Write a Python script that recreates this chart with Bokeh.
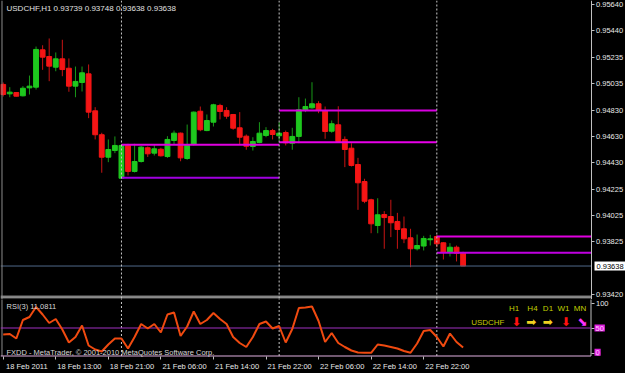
from bokeh.plotting import figure
from bokeh.models import (Range1d, FixedTicker, LinearAxis, Span, Label,
                          ColumnDataSource, PrintfTickFormatter)
from bokeh.layouts import column
from bokeh.embed import file_html
from bokeh.resources import INLINE
from bokeh.core.properties import value

# ---------------- data ----------------
title_text = "USDCHF,H1  0.93739 0.93748 0.93638 0.93638"
opens = [0.95028, 0.94956, 0.94966, 0.94941, 0.95002, 0.95007, 0.95293, 0.95242, 0.95160, 0.95224,
         0.95152, 0.95015, 0.95043, 0.95109, 0.94826, 0.94643, 0.94471, 0.94522, 0.94310, 0.94561,
         0.94362, 0.94438, 0.94543, 0.94502, 0.94532, 0.94476, 0.94599, 0.94655, 0.94461, 0.94568,
         0.94823, 0.94675, 0.94739, 0.94867, 0.94829, 0.94798, 0.94696, 0.94632, 0.94553, 0.94584,
         0.94637, 0.94675, 0.94635, 0.94660, 0.94578, 0.94630, 0.94834, 0.94849, 0.94880, 0.94829,
         0.94670, 0.94719, 0.94607, 0.94540, 0.94415, 0.94285, 0.94145, 0.93948, 0.94032, 0.94017,
         0.93979, 0.93923, 0.93854, 0.93770, 0.93791, 0.93839, 0.93864, 0.93816, 0.93744, 0.93782,
         0.93739]
highs = [0.95043, 0.95007, 0.94970, 0.95015, 0.95096, 0.95318, 0.95328, 0.95380, 0.95273, 0.95370,
         0.95227, 0.95165, 0.95165, 0.95181, 0.94854, 0.94658, 0.94607, 0.94630, 0.94568, 0.94574,
         0.94574, 0.94557, 0.94553, 0.94568, 0.94543, 0.94632, 0.94675, 0.94660, 0.94721, 0.94821,
         0.94859, 0.94798, 0.94880, 0.94880, 0.94854, 0.94802, 0.94816, 0.94645, 0.94624, 0.94739,
         0.94701, 0.94688, 0.94739, 0.94675, 0.94696, 0.94930, 0.94920, 0.95045, 0.94900, 0.94859,
         0.94752, 0.94861, 0.94630, 0.94578, 0.94466, 0.94306, 0.94153, 0.94157, 0.94058, 0.94145,
         0.94045, 0.94017, 0.93923, 0.93879, 0.93869, 0.93877, 0.93877, 0.93820, 0.93813, 0.93795,
         0.93748]
lows = [0.94936, 0.94930, 0.94936, 0.94936, 0.94951, 0.94989, 0.95140, 0.95053, 0.95129, 0.95091,
        0.94972, 0.94930, 0.94974, 0.94770, 0.94607, 0.94352, 0.94433, 0.94502, 0.94304, 0.94331,
        0.94354, 0.94430, 0.94473, 0.94484, 0.94476, 0.94466, 0.94568, 0.94440, 0.94451, 0.94561,
        0.94670, 0.94670, 0.94706, 0.94760, 0.94765, 0.94681, 0.94568, 0.94528, 0.94522, 0.94578,
        0.94624, 0.94607, 0.94599, 0.94561, 0.94528, 0.94578, 0.94816, 0.94842, 0.94808, 0.94612,
        0.94658, 0.94586, 0.94395, 0.94400, 0.94068, 0.94119, 0.93889, 0.93889, 0.93770, 0.93859,
        0.93770, 0.93813, 0.93629, 0.93757, 0.93757, 0.93795, 0.93782, 0.93688, 0.93711, 0.93673,
        0.93638]
closes = [0.94951, 0.94969, 0.94938, 0.94999, 0.95015, 0.95296, 0.95237, 0.95168, 0.95224, 0.95142,
          0.95015, 0.95051, 0.95117, 0.94816, 0.94643, 0.94471, 0.94530, 0.94561, 0.94561, 0.94362,
          0.94438, 0.94548, 0.94497, 0.94535, 0.94482, 0.94607, 0.94655, 0.94466, 0.94568, 0.94816,
          0.94681, 0.94752, 0.94872, 0.94821, 0.94785, 0.94693, 0.94624, 0.94555, 0.94591, 0.94655,
          0.94675, 0.94645, 0.94655, 0.94581, 0.94630, 0.94834, 0.94859, 0.94880, 0.94829, 0.94668,
          0.94727, 0.94591, 0.94530, 0.94408, 0.94275, 0.94134, 0.93961, 0.94030, 0.94009, 0.93969,
          0.93918, 0.93846, 0.93770, 0.93795, 0.93849, 0.93846, 0.93808, 0.93744, 0.93782, 0.93736,
          0.93638]
rsi = [37, 38, 29, 66, 72, 92, 77, 60, 68, 47,
       21, 32, 55, 15, 7, 3, 17, 29, 29, 9,
       32, 58, 49, 58, 41, 77, 81, 34, 53, 83,
       58, 66, 80, 68, 58, 32, 20, 12, 32, 58,
       63, 49, 54, 21, 48, 90, 91, 93, 64, 22,
       40, 20, 12, 5, 1, 0.5, 0.3, 17, 15, 12,
       9, 4, 0.5, 19, 44, 46, 32, 13, 39, 22,
       11.0811]
rsi_title = "RSI(3) 11.0811"
bid = 0.93638
price_ticks = [0.95640, 0.95440, 0.95235, 0.95035, 0.94830, 0.94630,
               0.94430, 0.94225, 0.94025, 0.93825, 0.93420]
rsi_ticks = [0, 50, 100]
rsi_level = 50
time_tick_bars = [0, 8, 16, 24, 32, 40, 48, 56, 64]
time_labels = ["18 Feb 2011", "18 Feb 13:00", "18 Feb 21:00", "21 Feb 06:00",
               "21 Feb 14:00", "21 Feb 22:00", "22 Feb 06:00", "22 Feb 14:00",
               "22 Feb 22:00"]
separator_bars = [18, 42, 66]
level_start = [18, 18, 42, 42, 66, 66]
level_end = [42, 42, 66, 66, None, None]          # None: runs to the price scale
level_price = [0.94566, 0.94313, 0.94829, 0.94586, 0.93864, 0.93739]
level_color = ["#e000e0", "#a000e0", "#d800e0", "#e800e8", "#e000e0", "#c000e0"]
tf_names = ["H1", "H4", "D1", "W1", "MN"]
tf_arrows = ["\u2B07", "\u27A1", "\u27A1", "\u2B07", "\u2B0A"]
tf_arrow_colors = ["#ff1010", "#f0d020", "#f0d020", "#ff1010", "#ff30ff"]
copyright_text = "FXDD - MetaTrader, \u00A9 2001-2010 MetaQuotes Software Corp."

FONT = "Liberation Sans"
GRID = "#c0c0c0"
bars = list(range(len(opens)))

# layout constants (bar index units / value units)
X_LEFT, X_RIGHT = -0.411, 94.718      # whole window width
X_SCALE = 89.467                      # where the price scale sits
X_EDGE = -0.183                       # left window edge line
X_RANGE = Range1d(X_LEFT, X_RIGHT)
level_end = [X_SCALE if e is None else e for e in level_end]

# ---------------- main price panel ----------------
p = figure(width=625, height=299, x_range=X_RANGE, y_range=Range1d(0.933817, 0.956706),
           x_axis_type=None, y_axis_type=None, output_backend="svg", toolbar_location=None,
           min_border_left=0, min_border_right=0, min_border_top=0, min_border_bottom=0,
           background_fill_color="black", border_fill_color="black",
           outline_line_color=None)
p.grid.visible = False

yax = LinearAxis(ticker=FixedTicker(ticks=price_ticks, minor_ticks=[]),
                 formatter=PrintfTickFormatter(format="%.5f"), fixed_location=X_SCALE)
yax.axis_line_color = GRID
yax.major_tick_line_color = GRID
yax.major_tick_in = 0
yax.major_tick_out = 3
yax.major_label_standoff = 2
yax.major_label_text_color = "#e8e8e8"
yax.major_label_text_font = FONT
yax.major_label_text_font_size = "7.5px"
p.add_layout(yax, "right")

bull = [c >= o for o, c in zip(opens, closes)]
src = ColumnDataSource(dict(
    x=bars, h=highs, l=lows,
    top=[max(o, c) for o, c in zip(opens, closes)],
    bot=[min(o, c) for o, c in zip(opens, closes)],
    body=["#1ec81e" if b else "#f51515" for b in bull],
    wick=["#189818" if b else "#c81414" for b in bull],
))

for i in separator_bars:
    p.add_layout(Span(location=i, dimension="height", line_color="#c8c8c8",
                      line_dash="2 2", line_width=1))
p.add_layout(Span(location=X_EDGE, dimension="height", line_color="#8c8c8c", line_width=1))

p.segment(x0="x", y0="h", x1="x", y1="l", source=src, line_color="wick", line_width=1)
p.vbar(x="x", width=0.74, top="top", bottom="bot", source=src,
       fill_color="body", line_color="body", line_width=1)

p.segment(x0=level_start, y0=level_price, x1=level_end, y1=level_price,
          line_color=level_color, line_width=2)

p.segment(x0=[X_LEFT], y0=[bid], x1=[X_SCALE], y1=[bid], line_color="#50698a", line_width=1)

# panel borders (bottom of price window, top of indicator window)
p.segment(x0=[X_LEFT, X_LEFT], y0=[0.934070, 0.933948], x1=[X_SCALE, X_SCALE],
          y1=[0.934070, 0.933948], line_color=GRID, line_width=1)

p.text(x=[0.5], y=[0.95606], text=[title_text], text_color="#e0e0e0",
       text_font=value(FONT), text_font_size="8px", text_align="left", text_baseline="middle")

p.add_layout(Label(x=90.0, y=bid, text="%.5f" % bid, text_color="black",
                   text_font=FONT, text_font_size="7.5px", text_baseline="middle",
                   background_fill_color="white", padding=2))

# ---------------- RSI panel ----------------
RSI_TOP, RSI_BOTTOM = 109.0, -6.0
r = figure(width=625, height=74, x_range=X_RANGE, y_range=Range1d(-41.0, 107.0),
           x_axis_type=None, y_axis_type=None, output_backend="svg", toolbar_location=None,
           min_border_left=0, min_border_right=0, min_border_top=0, min_border_bottom=0,
           background_fill_color="black", border_fill_color="black",
           outline_line_color=None)
r.grid.visible = False

rax = LinearAxis(ticker=FixedTicker(ticks=rsi_ticks, minor_ticks=[]), fixed_location=X_SCALE)
rax.axis_line_color = None
rax.major_tick_line_color = GRID
rax.major_tick_in = 0
rax.major_tick_out = 3
rax.major_label_standoff = 2
rax.major_label_text_color = "#e8e8e8"
rax.major_label_text_font = FONT
rax.major_label_text_font_size = "7.5px"
r.add_layout(rax, "right")

label_pos = [b + 3.6 for b in time_tick_bars]
xax = LinearAxis(ticker=FixedTicker(ticks=label_pos, minor_ticks=time_tick_bars),
                 major_label_overrides=dict(zip(label_pos, time_labels)),
                 fixed_location=RSI_BOTTOM)
xax.axis_line_color = None
xax.major_tick_line_color = None
xax.major_tick_in = 0
xax.major_tick_out = 0
xax.minor_tick_line_color = GRID
xax.minor_tick_in = 0
xax.minor_tick_out = 3
xax.major_label_standoff = 3
xax.major_label_text_color = "#e8e8e8"
xax.major_label_text_font = FONT
xax.major_label_text_font_size = "7.5px"
r.add_layout(xax, "below")

# separators, scale line, level line and window borders
r.segment(x0=separator_bars, y0=[RSI_BOTTOM] * 3, x1=separator_bars, y1=[RSI_TOP] * 3,
          line_color="#c8c8c8", line_dash="2 2", line_width=1)
r.segment(x0=[X_SCALE, X_EDGE], y0=[RSI_BOTTOM, RSI_BOTTOM], x1=[X_SCALE, X_EDGE],
          y1=[RSI_TOP, RSI_TOP], line_color=[GRID, "#8c8c8c"], line_width=1)
r.segment(x0=[X_LEFT], y0=[rsi_level], x1=[X_SCALE], y1=[rsi_level],
          line_color="#a030c0", line_width=1)
r.segment(x0=[X_LEFT], y0=[RSI_BOTTOM], x1=[X_SCALE], y1=[RSI_BOTTOM],
          line_color="#e0b0e0", line_width=1)

r.line(x=bars, y=rsi, line_color="#f04a10", line_width=2)

r.text(x=[0.5], y=[93], text=[rsi_title], text_color="#d8d8d8",
       text_font=value(FONT), text_font_size="7.5px", text_align="left", text_baseline="middle")
r.text(x=[0.5], y=[1.0], text=[copyright_text], text_color="#d8d8d8",
       text_font=value(FONT), text_font_size="7.5px", text_align="left", text_baseline="middle")

tf_x = [77.75, 80.56, 82.92, 85.28, 87.79]
arrow_x = [78.08, 80.37, 82.9, 85.63, 88.17]
r.text(x=tf_x, y=[89] * 5, text=tf_names, text_color="#c0d000",
       text_font=value(FONT), text_font_size="8px", text_align="center", text_baseline="middle")
r.text(x=arrow_x, y=[63] * 5, text=tf_arrows, text_color=tf_arrow_colors,
       text_font=value("DejaVu Sans"), text_font_size="12px", text_align="center",
       text_baseline="middle")
r.text(x=[76.3], y=[62], text=["USDCHF"], text_color="#c8c800",
       text_font=value(FONT), text_font_size="8px", text_align="right", text_baseline="middle")

r.add_layout(Label(x=90.0, y=rsi_level, text="50", text_color="#ffd0ff",
                   text_font=FONT, text_font_size="7.5px", text_baseline="middle",
                   background_fill_color="#e020e0", padding=1))
r.add_layout(Label(x=90.0, y=1.5, text="0", text_color="#ffd0ff",
                   text_font=FONT, text_font_size="7.5px", text_baseline="middle",
                   background_fill_color="#e020e0", padding=1))

layout = column(p, r, spacing=0, background="black")
open("out.html", "w").write(file_html(layout, INLINE))
